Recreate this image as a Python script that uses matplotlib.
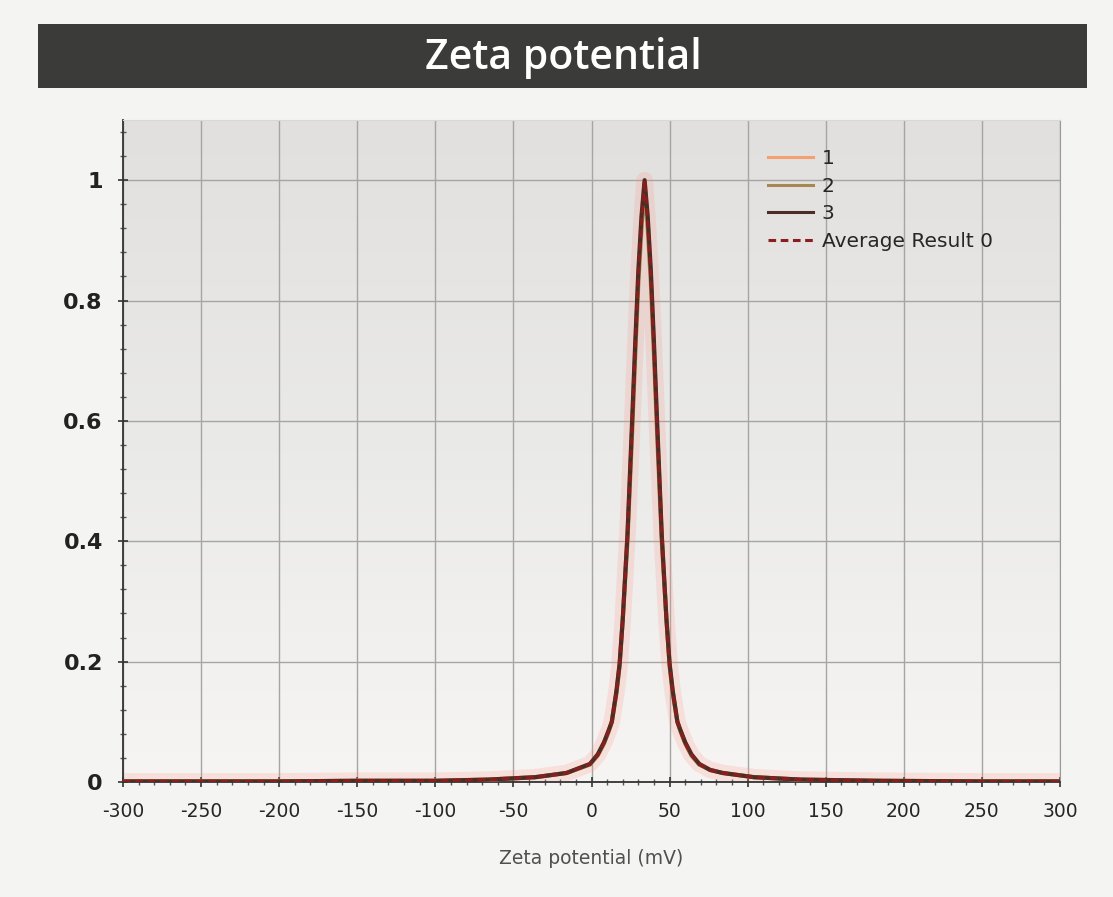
import matplotlib
matplotlib.use("Agg")
import matplotlib.pyplot as plt
import numpy as np
from matplotlib.patches import Rectangle
from matplotlib.ticker import MultipleLocator

plt.rcParams["axes.unicode_minus"] = False

# zeta potential (mV) sample points
zeta = [-300, -250, -200, -150, -100, -66, -36, -16, -1, 4, 8, 11, 13, 16, 18, 20,
        23, 26, 28, 30, 32, 34, 36, 38, 40, 42, 45, 48, 50, 52, 55, 57, 60, 64, 69,
        76, 84, 104, 134, 184, 250, 300]

# intensity per run (normalised)
run1 = [0.001, 0.001, 0.001, 0.002, 0.002, 0.004, 0.008, 0.015, 0.030, 0.045, 0.065,
        0.085, 0.10, 0.15, 0.195, 0.27, 0.41, 0.59, 0.72, 0.84, 0.93, 1.0, 0.93, 0.84,
        0.72, 0.59, 0.41, 0.27, 0.195, 0.15, 0.10, 0.085, 0.065, 0.045, 0.030, 0.020,
        0.015, 0.008, 0.004, 0.002, 0.001, 0.001]
run2 = [0.001, 0.001, 0.001, 0.002, 0.002, 0.004, 0.008, 0.015, 0.029, 0.044, 0.064,
        0.084, 0.10, 0.148, 0.193, 0.27, 0.40, 0.58, 0.71, 0.83, 0.92, 0.99, 0.92, 0.83,
        0.71, 0.58, 0.40, 0.27, 0.193, 0.148, 0.10, 0.084, 0.064, 0.044, 0.029, 0.020,
        0.015, 0.008, 0.004, 0.002, 0.001, 0.001]
run3 = [0.001, 0.001, 0.001, 0.002, 0.002, 0.004, 0.008, 0.015, 0.030, 0.046, 0.066,
        0.086, 0.10, 0.152, 0.197, 0.27, 0.41, 0.60, 0.73, 0.85, 0.94, 1.0, 0.94, 0.85,
        0.73, 0.60, 0.41, 0.27, 0.197, 0.152, 0.10, 0.086, 0.066, 0.046, 0.030, 0.020,
        0.015, 0.008, 0.004, 0.002, 0.001, 0.001]
average = [0.001, 0.001, 0.001, 0.002, 0.002, 0.004, 0.008, 0.015, 0.030, 0.045, 0.065,
           0.085, 0.10, 0.15, 0.195, 0.27, 0.41, 0.59, 0.72, 0.84, 0.93, 1.0, 0.93, 0.84,
           0.72, 0.59, 0.41, 0.27, 0.195, 0.15, 0.10, 0.085, 0.065, 0.045, 0.030, 0.020,
           0.015, 0.008, 0.004, 0.002, 0.001, 0.001]

series_labels = ["1", "2", "3", "Average Result 0"]
x_ticks = [-300, -250, -200, -150, -100, -50, 0, 50, 100, 150, 200, 250, 300]
y_ticks = [0, 0.2, 0.4, 0.6, 0.8, 1.0]
y_tick_labels = ["0", "0.2", "0.4", "0.6", "0.8", "1"]

fig = plt.figure(figsize=(11.13, 8.97), dpi=100)
fig.patch.set_facecolor("#f4f4f2")

# title bar
bar = Rectangle((0.034, 0.902), 0.943, 0.071, transform=fig.transFigure,
                facecolor="#3b3b39", edgecolor="none", zorder=1)
fig.patches.append(bar)
fig.text(0.506, 0.935, "Zeta potential", color="white", fontsize=29.5,
         fontweight="semibold", family="Open Sans", ha="center", va="center")

ax = fig.add_axes([0.1105, 0.1282, 0.8419, 0.738])

# gradient plot background
grad = np.linspace(0, 1, 256).reshape(-1, 1)
ax.imshow(grad, extent=[0, 1, 0, 1], transform=ax.transAxes, aspect="auto",
          cmap=matplotlib.colors.LinearSegmentedColormap.from_list(
              "bg", ["#f7f5f3", "#eaeae8", "#e2e0de"]),
          origin="lower", zorder=0)

ax.set_xlim(-300, 300)
ax.set_ylim(0, 1.1)

ax.grid(True, which="major", color="#a5a5a3", linewidth=1.0, zorder=1)

# glow + runs
ax.plot(zeta, run1, color="#ff9080", linewidth=12, alpha=0.2, zorder=2)
ax.plot(zeta, run1, color="#f4a070", linewidth=3, label=series_labels[0], zorder=3)
ax.plot(zeta, run2, color="#a88850", linewidth=3, label=series_labels[1], zorder=3)
ax.plot(zeta, run3, color="#4a2e26", linewidth=3, label=series_labels[2], zorder=4)
ax.plot(zeta, average, color="#8a1e1e", linewidth=2.2, linestyle=(0, (2.5, 1.5)),
        label=series_labels[3], zorder=5)

ax.set_xticks(x_ticks)
ax.set_yticks(y_ticks)
ax.set_yticklabels(y_tick_labels)
ax.xaxis.set_minor_locator(MultipleLocator(10))
ax.yaxis.set_minor_locator(MultipleLocator(0.04))
ax.tick_params(axis="both", which="major", direction="inout", length=7, width=1.2,
               color="#333333")
ax.tick_params(axis="both", which="minor", direction="inout", length=4, width=1,
               color="#555555")
ax.tick_params(axis="x", labelsize=13.5, labelcolor="#262626", pad=11)
ax.tick_params(axis="y", labelsize=16, labelcolor="#222222", pad=11)
for lbl in ax.get_yticklabels():
    lbl.set_fontweight("bold")

for side in ["left", "bottom"]:
    ax.spines[side].set_color("#333333")
    ax.spines[side].set_linewidth(1.3)
ax.spines["right"].set_color("#9a9a98")
ax.spines["top"].set_color("#d8d8d6")

ax.set_xlabel("Zeta potential (mV)", fontsize=13.5, color="#505050", labelpad=20)

leg = ax.legend(loc="upper left", bbox_to_anchor=(0.68, 0.968), frameon=False,
                prop={"size": 14.5}, handlelength=2.2,
                handletextpad=0.45, labelspacing=0.42, borderaxespad=0)
for t in leg.get_texts():
    t.set_color("#262626")
for h in leg.legend_handles:
    h.set_linewidth(2.2)

fig.savefig("out.png", dpi=100, facecolor=fig.get_facecolor())
